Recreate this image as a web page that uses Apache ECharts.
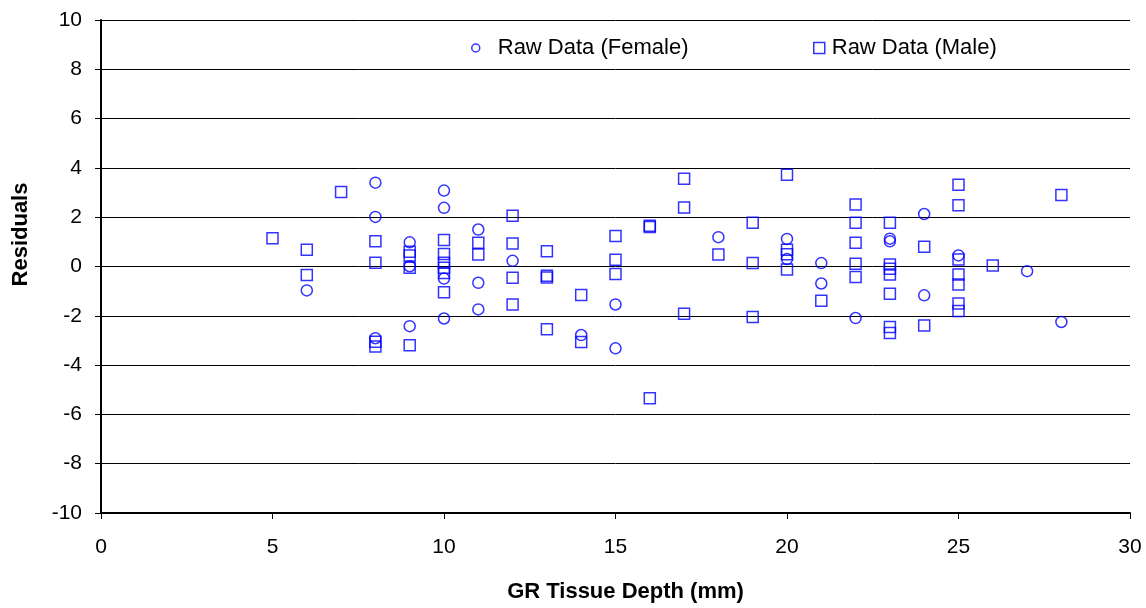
<!DOCTYPE html>
<html>
<head>
<meta charset="utf-8">
<script src="https://cdn.jsdelivr.net/npm/echarts@6/dist/echarts.min.js"></script>
<style>
html,body{margin:0;padding:0;background:#fff;}
#chart{width:1146px;height:608px;}
</style>
</head>
<body>
<div id="chart"></div>
<script>
// Residuals vs GR tissue depth
var femaleX = [6, 8, 8, 8, 9, 9, 9, 10, 10, 10, 10, 11, 11, 11, 12, 14, 15, 15, 18, 20, 20, 21, 21, 22, 23, 23, 24, 24, 25, 27, 28];
var femaleY = [-0.97, 3.40, 2.01, -2.91, 0.98, 0.01, -2.42, 3.08, 2.38, -0.49, -2.11, 1.50, -0.66, -1.74, 0.23, -2.78, -1.54, -3.32, 1.19, 1.12, 0.30, 0.14, -0.69, -2.09, 1.13, 1.02, 2.13, -1.17, 0.45, -0.19, -2.25];

var maleX = [5, 6, 6, 7, 8, 8, 8, 8, 9, 9, 9, 9, 10, 10, 10, 10, 10, 10, 11, 11, 12, 12, 12, 12, 13, 13, 13, 13, 14, 14, 15, 15, 15, 16, 16, 16, 17, 17, 17, 18, 19, 19, 19, 20, 20, 20, 20, 21, 22, 22, 22, 22, 22, 23, 23, 23, 23, 23, 23, 23, 24, 24, 25, 25, 25, 25, 25, 25, 25, 26, 28];
var maleY = [1.15, 0.68, -0.34, 3.02, 1.02, 0.15, -3.05, -3.25, 0.60, 0.45, -0.05, -3.19, 1.08, 0.51, 0.15, -0.05, -0.26, -1.04, 0.96, 0.49, 2.06, 0.93, -0.46, -1.54, 0.62, -0.38, -0.45, -2.55, -1.16, -3.06, 1.24, 0.27, -0.30, 1.60, 1.65, -5.34, 3.56, 2.39, -1.92, 0.49, 1.77, 0.14, -2.05, 3.72, 0.68, 0.50, -0.12, -1.39, 2.52, 1.77, 0.96, 0.11, -0.43, 1.77, 0.08, -0.09, -0.32, -1.11, -2.45, -2.70, 0.80, -2.39, 3.32, 2.48, 0.28, -0.32, -0.73, -1.50, -1.81, 0.04, 2.90];

var seriesNames = ['Raw Data (Female)', 'Raw Data (Male)'];
var xName = 'GR Tissue Depth (mm)';
var yName = 'Residuals';

function pairs(xs, ys) {
  var out = [];
  for (var i = 0; i < xs.length; i++) out.push([xs[i], ys[i]]);
  return out;
}

var FONT = "'Liberation Sans', Arial, sans-serif";
var chart = echarts.init(document.getElementById('chart'), null, {renderer: 'canvas'});
var markerStyle = {color: 'rgba(0,0,0,0)', borderColor: '#0000FF', borderWidth: 1.5};

chart.setOption({
  animation: false,
  backgroundColor: '#ffffff',
  textStyle: {fontFamily: FONT, color: '#000'},
  grid: {left: 101, right: 16, top: 20, bottom: 94, containLabel: false},
  legend: [
    {
      data: [{name: seriesNames[0], icon: 'circle'}],
      left: 466, top: 32, padding: 5,
      itemWidth: 8, itemHeight: 8,
      textStyle: {fontFamily: FONT, fontSize: 22, color: '#000', padding: [0, 0, 0, 13]},
      itemStyle: {color: 'rgba(0,0,0,0)', borderColor: '#0000FF', borderWidth: 1.5}
    },
    {
      data: [{name: seriesNames[1], icon: 'rect'}],
      left: 808, top: 32, padding: 5,
      itemWidth: 11, itemHeight: 11,
      textStyle: {fontFamily: FONT, fontSize: 22, color: '#000', padding: [0, 0, 0, 2]},
      itemStyle: {color: 'rgba(0,0,0,0)', borderColor: '#0000FF', borderWidth: 1.5}
    }
  ],
  xAxis: {
    type: 'value', min: 0, max: 30, interval: 5,
    name: xName, nameLocation: 'middle', nameGap: 68,
    nameTextStyle: {fontFamily: FONT, fontSize: 22, fontWeight: 'bold', color: '#000', padding: [0, 0, 0, 20]},
    axisLine: {show: true, onZero: false, lineStyle: {color: '#000', width: 2}},
    axisTick: {show: true, inside: false, length: 6, lineStyle: {color: '#000', width: 1}},
    axisLabel: {fontFamily: FONT, fontSize: 21, color: '#000', margin: 24},
    splitLine: {show: false}
  },
  yAxis: {
    type: 'value', min: -10, max: 10, interval: 2,
    name: yName, nameLocation: 'middle', nameGap: 69, nameRotate: 90,
    nameTextStyle: {fontFamily: FONT, fontSize: 22, fontWeight: 'bold', color: '#000', padding: [0, 0, 0, 64]},
    axisLine: {show: true, onZero: false, lineStyle: {color: '#000', width: 2}},
    axisTick: {show: true, inside: false, length: 6, lineStyle: {color: '#000', width: 1}},
    axisLabel: {fontFamily: FONT, fontSize: 21, color: '#000', margin: 19},
    splitLine: {show: true, lineStyle: {color: '#000', width: 1}}
  },
  series: [
    {
      name: seriesNames[0], type: 'scatter', symbol: 'circle', symbolSize: 11,
      itemStyle: markerStyle,
      data: pairs(femaleX, femaleY)
    },
    {
      name: seriesNames[1], type: 'scatter', symbol: 'rect', symbolSize: 11,
      itemStyle: markerStyle,
      data: pairs(maleX, maleY)
    }
  ]
});
</script>
</body>
</html>
